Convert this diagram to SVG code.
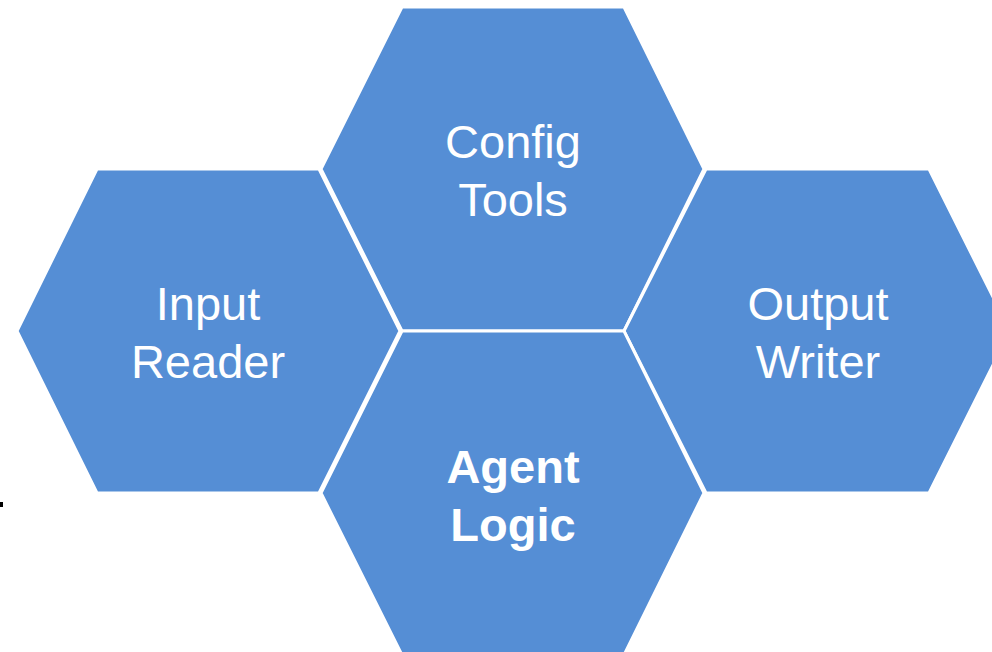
<svg xmlns="http://www.w3.org/2000/svg" width="992" height="652" viewBox="0 0 992 652">
<style>
.hex{fill:#558ed5;stroke:#ffffff;stroke-width:3;stroke-linejoin:miter}
.lbl{font-family:"Liberation Sans",Arial,sans-serif;font-size:47px;fill:#ffffff;text-anchor:middle}
.b{font-weight:bold}
</style>
<rect width="992" height="652" fill="#ffffff"/>
<g id="config-tools">
<polygon class="hex" points="321,169 402,7 624,7 704,169 624,331 402,331"/>
<text class="lbl" x="513" y="158">Config</text>
<text class="lbl" x="513" y="216">Tools</text>
</g>
<g id="input-reader">
<polygon class="hex" points="17,331 97,169 319,169 400,331 319,493 97,493"/>
<text class="lbl" x="208" y="320">Input</text>
<text class="lbl" x="208" y="378">Reader</text>
</g>
<g id="output-writer">
<polygon class="hex" points="624,331 706,169 929,169 1010,331 929,493 706,493"/>
<text class="lbl" x="818" y="320">Output</text>
<text class="lbl" x="818" y="378">Writer</text>
</g>
<g id="agent-logic">
<polygon class="hex" points="321,493 402,331 624,331 704,493 624,655 402,655"/>
<text class="lbl b" x="513" y="483">Agent</text>
<text class="lbl b" x="513" y="541">Logic</text>
</g>
<g id="connectors"></g>
<rect x="0" y="502" width="3" height="5" fill="#000000"/>
</svg>
